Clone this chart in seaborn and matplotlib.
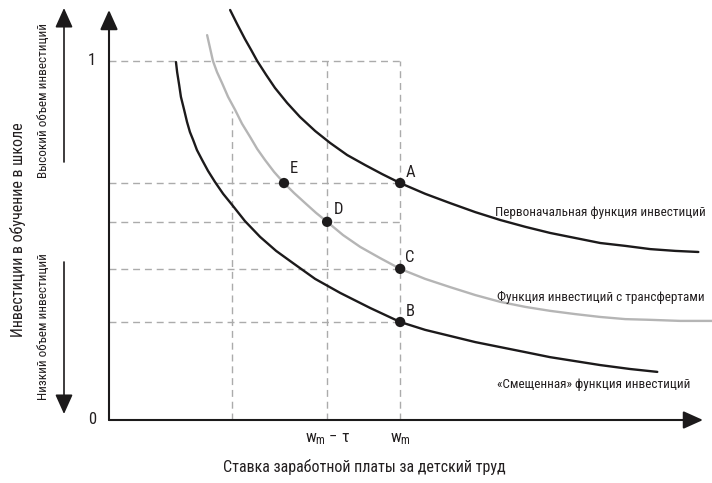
import matplotlib
matplotlib.use("Agg")
import matplotlib.pyplot as plt
import matplotlib.font_manager as fm
import seaborn as sns
import pandas as pd

# ---- data ----
top_x = [0.416, 0.440, 0.467, 0.488, 0.509, 0.540, 0.570, 0.612, 0.656, 0.708, 0.759, 0.818, 0.880,
         0.938, 1.0, 1.086, 1.172, 1.258, 1.344, 1.430, 1.515, 1.601, 1.687, 1.773, 1.859, 1.945, 2.024]
top_y = [1.142, 1.103, 1.061, 1.031, 1.0, 0.961, 0.925, 0.883, 0.844, 0.805, 0.772, 0.738, 0.710,
         0.685, 0.660, 0.630, 0.604, 0.579, 0.557, 0.538, 0.521, 0.507, 0.493, 0.485, 0.476, 0.471, 0.468]

mid_x = [0.337, 0.347, 0.357, 0.371, 0.388, 0.409, 0.433, 0.457, 0.485, 0.509, 0.536, 0.567, 0.601,
         0.636, 0.674, 0.711, 0.749, 0.804, 0.863, 0.931, 1.0, 1.086, 1.172, 1.258, 1.344, 1.430,
         1.515, 1.601, 1.687, 1.773, 1.859, 1.962, 2.072]
mid_y = [1.072, 1.036, 1.0, 0.969, 0.939, 0.900, 0.864, 0.825, 0.788, 0.755, 0.724, 0.691, 0.660,
         0.632, 0.604, 0.577, 0.552, 0.515, 0.482, 0.451, 0.421, 0.393, 0.370, 0.348, 0.329, 0.315,
         0.304, 0.295, 0.287, 0.281, 0.279, 0.276, 0.276]

low_x = [0.230, 0.234, 0.241, 0.247, 0.258, 0.268, 0.278, 0.289, 0.302, 0.320, 0.340, 0.364, 0.392,
         0.423, 0.467, 0.519, 0.574, 0.632, 0.708, 0.794, 0.897, 1.0, 1.086, 1.172, 1.258, 1.344,
         1.430, 1.515, 1.601, 1.687, 1.790, 1.883]
low_y = [0.997, 0.969, 0.933, 0.900, 0.864, 0.830, 0.802, 0.780, 0.752, 0.724, 0.694, 0.663, 0.630,
         0.599, 0.554, 0.510, 0.471, 0.437, 0.393, 0.354, 0.312, 0.273, 0.251, 0.234, 0.217, 0.203,
         0.189, 0.175, 0.164, 0.153, 0.142, 0.134]

pt_labels = ["A", "C", "B", "D", "E"]
pt_x = [1.0, 1.0, 1.0, 0.749, 0.601]
pt_y = [0.660, 0.421, 0.273, 0.552, 0.660]

vline_x = [0.423, 0.749, 1.0]
vline_top = [0.861, 1.0, 1.0]
hline_y = [1.0, 0.660, 0.552, 0.421, 0.273]
hline_right = [1.0, 1.0, 1.0, 1.0, 1.0]

curve_names = ["Первоначальная функция инвестиций",
               "Функция инвестиций с трансфертами",
               "«Смещенная» функция инвестиций"]
ytick_vals = [0, 1]
xtick_vals = [0.749, 1.0]
xtick_labels = [r"w$_{\mathregular{m}}$ − τ", r"w$_{\mathregular{m}}$"]
xlabel = "Ставка заработной платы за детский труд"
ylabel = "Инвестиции в обучение в школе"
high_label = "Высокий объем инвестиций"
low_label = "Низкий объем инвестиций"

sns.set_style("white")

names = {f.name for f in fm.fontManager.ttflist}
font = "DejaVu Sans"
for cand in ["Roboto Condensed", "Liberation Sans Narrow", "Archivo Narrow", "Asap Condensed"]:
    if cand in names:
        font = cand
        break
plt.rcParams["font.family"] = [font, "DejaVu Sans"]
plt.rcParams["mathtext.fontset"] = "custom"
plt.rcParams["mathtext.rm"] = font
plt.rcParams["mathtext.it"] = font

INK = "#1c1a1b"
TXT = "#231f20"

W, H = 712, 483
fig = plt.figure(figsize=(W / 100, H / 100), dpi=100)
ax = fig.add_axes([109 / W, (H - 420) / H, (703 - 109) / W, 410 / H])

dash_kw = dict(color="#ababab", lw=1.0, dashes=(5, 3.5), zorder=1)
for x, t in zip(vline_x, vline_top):
    ax.plot([x, x], [0, t], **dash_kw)
for y, r in zip(hline_y, hline_right):
    ax.plot([0, r], [y, y], **dash_kw)

df_top = pd.DataFrame({"x": top_x, "y": top_y})
df_mid = pd.DataFrame({"x": mid_x, "y": mid_y})
df_low = pd.DataFrame({"x": low_x, "y": low_y})
sns.lineplot(data=df_mid, x="x", y="y", sort=False, estimator=None, color="#b5b5b5", lw=1.7, ax=ax, zorder=2)
sns.lineplot(data=df_top, x="x", y="y", sort=False, estimator=None, color=INK, lw=1.7, ax=ax, zorder=3)
sns.lineplot(data=df_low, x="x", y="y", sort=False, estimator=None, color=INK, lw=1.7, ax=ax, zorder=3)
for l in ax.lines:
    l.set_clip_on(False)
    l.set_solid_joinstyle("round")

df_pts = pd.DataFrame({"x": pt_x, "y": pt_y, "lab": pt_labels})
sns.scatterplot(data=df_pts, x="x", y="y", color=INK, s=55, edgecolor="none", ax=ax, zorder=5, clip_on=False)

ax.set_xlim(0, 2.04)
ax.set_ylim(0, 1.142)
ax.axis("off")

offsets = {"A": (10, 11), "C": (10, 11), "B": (10, 10), "D": (11, 12), "E": (10, 15)}
for lab, x, y in zip(pt_labels, pt_x, pt_y):
    ax.annotate(lab, (x, y), xytext=offsets[lab], textcoords="offset pixels",
                ha="center", va="center", fontsize=12, color=TXT)

ax.text(1.326, 0.579, curve_names[0], ha="left", va="center", fontsize=9.5, color=TXT)
ax.text(1.333, 0.340, curve_names[1], ha="left", va="center", fontsize=9.5, color=TXT)
ax.text(1.333, 0.100, curve_names[2], ha="left", va="center", fontsize=9.5, color=TXT)

# axes with arrows
arr = dict(arrowstyle="-|>,head_length=0.6,head_width=0.27", mutation_scale=20,
           lw=1.5, color=INK, shrinkA=0, shrinkB=0)
ax.annotate("", xy=(0, 1.142), xytext=(0, 0), arrowprops=arr, annotation_clip=False)
ax.annotate("", xy=(2.04, 0), xytext=(0, 0), arrowprops=arr, annotation_clip=False)

for v in ytick_vals:
    ax.annotate(str(v), (0, v), xytext=(-17, 0), textcoords="offset pixels",
                ha="center", va="center", fontsize=12, color=TXT)
for v, s in zip(xtick_vals, xtick_labels):
    ax.annotate(s, (v, 0), xytext=(0, -19), textcoords="offset pixels",
                ha="center", va="center", fontsize=12, color=TXT)

fig.text(364 / W, 1 - 467 / H, xlabel, ha="center", va="center", fontsize=11.5, color=TXT)
fig.text(18 / W, 1 - 230 / H, ylabel, ha="center", va="center", rotation=90, fontsize=11.5, color=TXT)
fig.text(44 / W, 1 - 100 / H, high_label, ha="center", va="center", rotation=90, fontsize=9.5, color=TXT)
fig.text(44 / W, 1 - 327 / H, low_label, ha="center", va="center", rotation=90, fontsize=9.5, color=TXT)

arr2 = dict(arrowstyle="-|>,head_length=0.6,head_width=0.27", mutation_scale=20,
            lw=1.2, color=INK, shrinkA=0, shrinkB=0)
ax.annotate("", xy=(64, H - 8), xytext=(64, H - 162), xycoords="figure pixels",
            textcoords="figure pixels", arrowprops=arr2, annotation_clip=False)
ax.annotate("", xy=(64, H - 414), xytext=(64, H - 262), xycoords="figure pixels",
            textcoords="figure pixels", arrowprops=arr2, annotation_clip=False)

fig.savefig("out.png", dpi=100)
